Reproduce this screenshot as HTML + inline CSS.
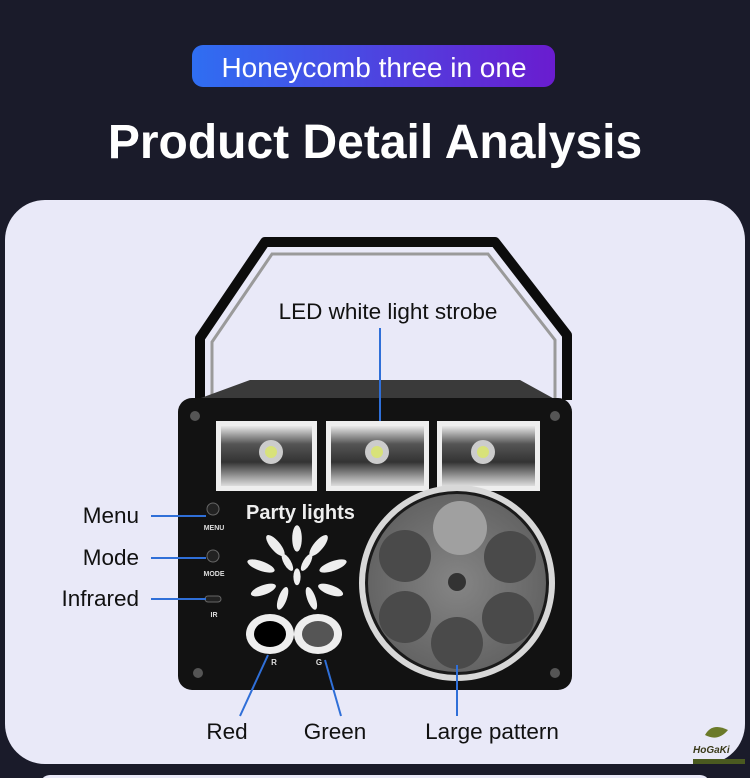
<!DOCTYPE html>
<html><head><meta charset="utf-8"><style>
html,body{margin:0;padding:0;background:#1a1b2a;}
svg{display:block}
text{font-family:"Liberation Sans",sans-serif}
</style></head><body>
<svg width="750" height="778" viewBox="0 0 750 778" xmlns="http://www.w3.org/2000/svg">
<defs>
<linearGradient id="pill" x1="0" x2="1"><stop offset="0" stop-color="#2f6ef2"/><stop offset="1" stop-color="#6a1ccf"/></linearGradient>
<radialGradient id="wheel" cx="0.5" cy="0.5" r="0.5"><stop offset="0" stop-color="#858585"/><stop offset="1" stop-color="#646464"/></radialGradient>
<linearGradient id="led" x1="0" y1="0" x2="0" y2="1"><stop offset="0" stop-color="#e8e8e8"/><stop offset="0.3" stop-color="#555"/><stop offset="0.6" stop-color="#333"/><stop offset="1" stop-color="#ddd"/></linearGradient>
</defs>
<rect width="750" height="778" fill="#1a1b2a"/>
<rect x="192" y="45" width="363" height="42" rx="11" fill="url(#pill)"/>
<text x="374" y="77" text-anchor="middle" fill="#fff" font-size="28">Honeycomb three in one</text>
<text x="375" y="158" text-anchor="middle" fill="#fff" font-size="48" font-weight="bold">Product Detail Analysis</text>
<rect x="5" y="200" width="740" height="564" rx="40" fill="#e9e9f8"/>
<rect x="40" y="775" width="670" height="20" rx="10" fill="#e9e9f8"/>
<!-- handle -->
<path d="M200 400 L200 338 L265 242 L495 242 L567 335 L567 400" fill="none" stroke="#0c0c0c" stroke-width="10" stroke-linejoin="round"/>
<path d="M212 400 L212 342 L272 254 L488 254 L555 340 L555 400" fill="none" stroke="#9a9a9a" stroke-width="3"/>
<!-- top -->
<path d="M250 380 L520 380 L560 402 L190 402 Z" fill="#3a3a3a"/>
<!-- body -->
<rect x="178" y="398" width="394" height="292" rx="14" fill="#121212"/>
<g fill="#555"><circle cx="195" cy="416" r="5"/><circle cx="555" cy="416" r="5"/><circle cx="198" cy="673" r="5"/><circle cx="555" cy="673" r="5"/></g>
<!-- LED windows -->
<g>
<rect x="216" y="421" width="101" height="70" fill="#eee"/><rect x="221" y="426" width="91" height="60" fill="url(#led)"/><circle cx="271" cy="452" r="12" fill="#ccc"/><circle cx="271" cy="452" r="6" fill="#d8e27a"/>
<rect x="326" y="421" width="103" height="70" fill="#eee"/><rect x="331" y="426" width="93" height="60" fill="url(#led)"/><circle cx="377" cy="452" r="12" fill="#ccc"/><circle cx="377" cy="452" r="6" fill="#d8e27a"/>
<rect x="437" y="421" width="103" height="70" fill="#eee"/><rect x="442" y="426" width="93" height="60" fill="url(#led)"/><circle cx="483" cy="452" r="12" fill="#ccc"/><circle cx="483" cy="452" r="6" fill="#d8e27a"/>
</g>
<text x="246" y="519" fill="#eee" font-size="20" font-weight="bold">Party lights</text>
<!-- buttons -->
<circle cx="213" cy="509" r="6" fill="#222" stroke="#666" stroke-width="1"/>
<text x="214" y="530" text-anchor="middle" fill="#ddd" font-size="7" font-weight="bold">MENU</text>
<circle cx="213" cy="556" r="6" fill="#222" stroke="#666" stroke-width="1"/>
<text x="214" y="576" text-anchor="middle" fill="#ddd" font-size="7" font-weight="bold">MODE</text>
<rect x="205" y="596" width="16" height="6" rx="3" fill="#222" stroke="#666"/>
<text x="214" y="617" text-anchor="middle" fill="#ddd" font-size="7" font-weight="bold">IR</text>
<!-- firework -->
<g fill="#eee" transform="translate(297,572) scale(1.2)">
<ellipse cx="0" cy="-28" rx="4" ry="11"/><ellipse cx="18" cy="-22" rx="4" ry="11" transform="rotate(40 18 -22)"/><ellipse cx="-18" cy="-22" rx="4" ry="11" transform="rotate(-40 -18 -22)"/>
<ellipse cx="30" cy="-5" rx="4" ry="12" transform="rotate(70 30 -5)"/><ellipse cx="-30" cy="-5" rx="4" ry="12" transform="rotate(-70 -30 -5)"/>
<ellipse cx="28" cy="15" rx="4" ry="11" transform="rotate(110 28 15)"/><ellipse cx="-28" cy="15" rx="4" ry="11" transform="rotate(-110 -28 15)"/>
<ellipse cx="12" cy="22" rx="3.5" ry="10" transform="rotate(160 12 22)"/><ellipse cx="-12" cy="22" rx="3.5" ry="10" transform="rotate(-160 -12 22)"/>
<ellipse cx="8" cy="-8" rx="3" ry="8" transform="rotate(30 8 -8)"/><ellipse cx="-8" cy="-8" rx="3" ry="8" transform="rotate(-30 -8 -8)"/><ellipse cx="0" cy="4" rx="3" ry="7"/>
</g>
<!-- R G -->
<ellipse cx="270" cy="634" rx="24" ry="20" fill="#eee"/><ellipse cx="270" cy="634" rx="16" ry="13" fill="#000"/>
<ellipse cx="318" cy="634" rx="24" ry="20" fill="#eee"/><ellipse cx="318" cy="634" rx="16" ry="13" fill="#555"/>
<text x="274" y="665" text-anchor="middle" fill="#ddd" font-size="8" font-weight="bold">R</text>
<text x="319" y="665" text-anchor="middle" fill="#ddd" font-size="8" font-weight="bold">G</text>
<!-- wheel -->
<circle cx="457" cy="583" r="98" fill="#d8d8d8"/>
<circle cx="457" cy="583" r="92" fill="#1a1a1a"/>
<circle cx="457" cy="583" r="89" fill="url(#wheel)"/>
<g fill="#4a4a4a">
<circle cx="460" cy="528" r="27" fill="#a0a0a0"/><circle cx="405" cy="556" r="26"/><circle cx="510" cy="557" r="26"/><circle cx="405" cy="617" r="26"/><circle cx="508" cy="618" r="26"/><circle cx="457" cy="643" r="26"/>
</g>
<circle cx="457" cy="582" r="9" fill="#333"/>
<!-- labels -->
<g stroke="#2f6fd8" stroke-width="2">
<line x1="380" y1="328" x2="380" y2="421"/>
<line x1="151" y1="516" x2="206" y2="516"/>
<line x1="151" y1="558" x2="206" y2="558"/>
<line x1="151" y1="599" x2="206" y2="599"/>
<line x1="268" y1="655" x2="240" y2="716"/>
<line x1="325" y1="660" x2="341" y2="716"/>
<line x1="457" y1="665" x2="457" y2="716"/>
</g>
<g fill="#111" font-size="22.5">
<text x="388" y="319" text-anchor="middle">LED white light strobe</text>
<text x="139" y="523" text-anchor="end">Menu</text>
<text x="139" y="565" text-anchor="end">Mode</text>
<text x="139" y="606" text-anchor="end">Infrared</text>
<text x="227" y="739" text-anchor="middle">Red</text>
<text x="335" y="739" text-anchor="middle">Green</text>
<text x="492" y="739" text-anchor="middle">Large pattern</text>
</g>
<!-- logo -->
<path d="M705 735 Q712 722 728 730 Q718 742 705 735Z" fill="#6b7a2a"/>
<text x="693" y="753" fill="#3a3a1a" font-size="10" font-weight="bold" font-style="italic" font-family="Liberation Serif,serif">HoGaKi</text>
<rect x="693" y="759" width="52" height="5" fill="#4a5a20"/>
</svg>
</body></html>
